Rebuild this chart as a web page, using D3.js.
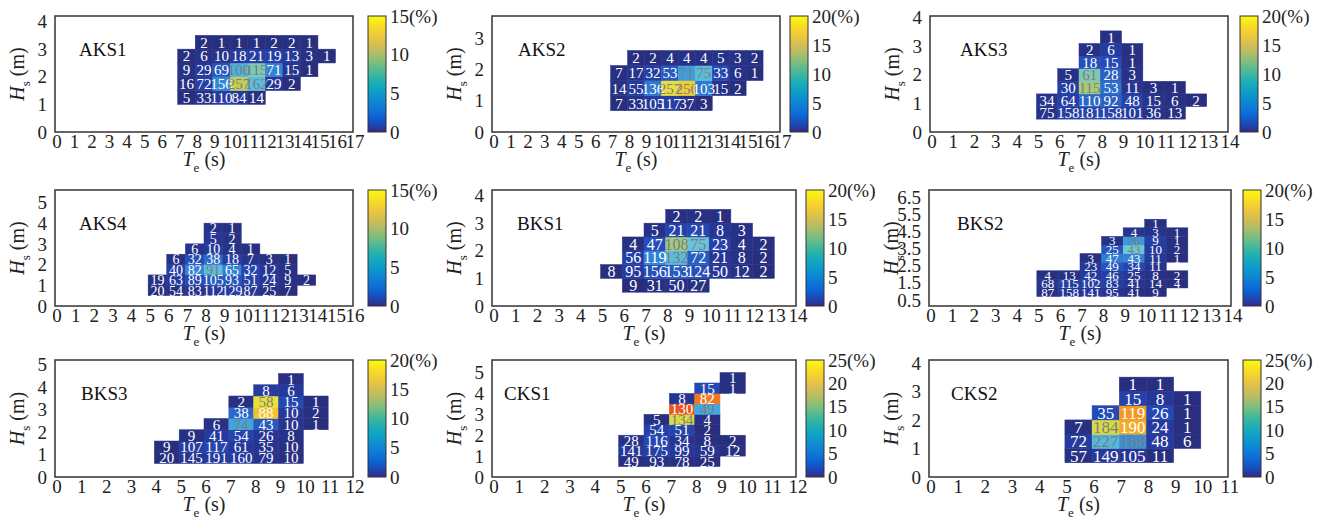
<!DOCTYPE html>
<html>
<head>
<meta charset="utf-8">
<script src="https://cdn.jsdelivr.net/npm/d3@7"></script>
<style>
  body { margin: 0; background: #fff; }
  svg text { font-family: "Liberation Serif", "Times New Roman", serif; }
</style>
</head>
<body>
<svg id="chart" width="1327" height="519"></svg>
<script>
// Data: occurrence counts per (Te, Hs) bin.
// Each row goes bottom-up: [first Te bin, counts along Te...]

const aks1 = [
    [7, 5, 33, 110, 84, 14],
    [7, 16, 72, 156, 257, 162, 29, 2],
    [7, 9, 29, 69, 100, 115, 71, 15, 1],
    [7, 2, 6, 10, 18, 21, 19, 13, 3, 1],
    [8, 2, 1, 1, 1, 2, 2, 1]
];
const aks2 = [
    [7, 7, 33, 105, 117, 37, 3],
    [7, 14, 55, 136, 257, 250, 103, 15, 2],
    [7, 7, 17, 32, 53, 71, 75, 33, 6, 1],
    [8, 2, 2, 4, 4, 4, 5, 3, 2]
];
const aks3 = [
    [5, 75, 158, 181, 158, 101, 36, 13],
    [5, 34, 64, 110, 92, 48, 15, 6, 2],
    [6, 30, 115, 53, 11, 3, 1],
    [6, 5, 61, 28, 3],
    [7, 18, 15, 1],
    [7, 2, 6, 1],
    [8, 1]
];
const aks4 = [
    [5, 20, 54, 83, 112, 129, 87, 25, 7],
    [5, 19, 63, 89, 105, 93, 51, 24, 9, 2],
    [6, 40, 82, 91, 65, 32, 12, 5],
    [6, 6, 32, 38, 18, 7, 3, 1],
    [7, 6, 10, 4, 1],
    [8, 5, 2],
    [8, 2, 1]
];
const bks1 = [
    [6, 9, 31, 50, 27],
    [5, 8, 95, 156, 153, 124, 50, 12, 2],
    [6, 56, 119, 132, 72, 21, 8, 2],
    [6, 4, 47, 108, 75, 23, 4, 2],
    [7, 5, 21, 21, 8, 3],
    [8, 2, 2, 1]
];
const bks2 = [
    [5, 87, 158, 141, 95, 41, 9],
    [5, 68, 115, 102, 83, 41, 14, 4],
    [5, 4, 13, 42, 46, 25, 8, 2],
    [7, 23, 49, 34, 11],
    [7, 3, 47, 43, 11, 1],
    [8, 25, 43, 10, 2],
    [8, 3, 26, 9, 1],
    [9, 4, 3, 1],
    [10, 1]
];
const bks3 = [
    [4, 20, 145, 191, 160, 79, 10],
    [4, 9, 107, 117, 61, 35, 10],
    [5, 9, 41, 54, 26, 8],
    [6, 6, 74, 43, 10, 1],
    [7, 38, 88, 10, 2],
    [7, 2, 58, 15, 1],
    [8, 8, 6],
    [9, 1]
];
const cks1 = [
    [5, 49, 93, 78, 25],
    [5, 141, 175, 99, 59, 12],
    [5, 28, 116, 34, 8, 2],
    [6, 54, 51, 2],
    [6, 5, 134, 4],
    [7, 130, 49],
    [7, 8, 82],
    [8, 15, 1],
    [9, 1]
];
const cks2 = [
    [5, 57, 149, 105, 11],
    [5, 72, 227, 168, 48, 6],
    [5, 7, 184, 190, 24, 1],
    [6, 35, 119, 26, 1],
    [7, 15, 8, 1],
    [7, 1, 1]
];

const siteNames = ["AKS1", "AKS2", "AKS3", "AKS4", "BKS1", "BKS2", "BKS3", "CKS1", "CKS2"];
const siteCells = [aks1, aks2, aks3, aks4, bks1, bks2, bks3, cks1, cks2];
const hsStart = [1.0, 0.68, 0.45, 0.5, 0.5, 0.7, 0.6, 0.5, 0.5];
const hsStep = [0.5, 0.48, 0.44, 0.5, 0.5, 0.5, 0.5, 0.5, 0.5];
const teMax = [17, 17, 14, 16, 14, 14, 12, 12, 11];
const hsMin = [0, 0, 0, 0, 0, 0.15, 0, 0, 0];
const hsMax = [4.2, 3.7, 4.05, 5.6, 4.2, 6.9, 5.2, 5.6, 4.1];
const hsTicks = [
    [0, 1, 2, 3, 4], [0, 1, 2, 3], [0, 1, 2, 3, 4],
    [0, 1, 2, 3, 4, 5], [0, 1, 2, 3, 4], [0.5, 1.5, 2.5, 3.5, 4.5, 5.5, 6.5],
    [0, 1, 2, 3, 4, 5], [0, 1, 2, 3, 4, 5], [0, 1, 2, 3, 4]
];
const cbarMax = [15, 20, 20, 15, 20, 20, 20, 25, 25];
const energyMax = 25;   // cell colour: share of wave energy (%)

// Layout

const rowsY = [[16, 132], [190, 306], [360, 477]];
const frames = [
    { x0: 55, x1: 353, cb: 368, fs: 15, lx: 24 },
    { x0: 492, x1: 780, cb: 790, fs: 15, lx: 26 },
    { x0: 930, x1: 1228, cb: 1240, fs: 15, lx: 30 },
    { x0: 55, x1: 353, cb: 368, fs: 14, lx: 24 },
    { x0: 492, x1: 796, cb: 806, fs: 16, lx: 25 },
    { x0: 929, x1: 1231, cb: 1243, fs: 13, lx: 28 },
    { x0: 55, x1: 353, cb: 368, fs: 15, lx: 26 },
    { x0: 492, x1: 796, cb: 806, fs: 15, lx: 12 },
    { x0: 929, x1: 1228, cb: 1243, fs: 17, lx: 22 }
];

const parula = d3.interpolateRgbBasis(["#352a87", "#0363e1", "#1485d4", "#06a7c6",
    "#38b99e", "#92bf73", "#d9ba56", "#fcce2e", "#f9fb0e"]);

const cellColor = d3.scaleLinear()
    .domain([0, 0.1, 0.2, 0.3, 0.36, 0.42, 0.5, 0.57, 0.63, 0.7, 0.75, 0.8, 0.85, 1])
    .range(["#282e7c", "#26399c", "#244cb8", "#2f78d0", "#45aee0", "#6cc8d8", "#88c8a0",
        "#bccc5a", "#e8e03c", "#f2be2c", "#f29a22", "#ee6c20", "#e8441c", "#c82018"])
    .clamp(true);

const svg = d3.select("#chart");
const defs = svg.append("defs");

const grad = defs.append("linearGradient")
    .attr("id", "parula")
    .attr("x1", 0).attr("y1", 1).attr("x2", 0).attr("y2", 0);
d3.range(0, 1.0001, 0.05).forEach(t => {
    grad.append("stop").attr("offset", t).attr("stop-color", parula(t));
});

siteNames.forEach((name, i) => drawPanel(name, i));

function drawPanel(name, i) {

    const f = frames[i];
    const [y0, y1] = rowsY[Math.floor(i / 3)];
    const step = hsStep[i];
    const g = svg.append("g");

    const x = d3.scaleLinear().domain([0, teMax[i]]).range([f.x0, f.x1]);
    const y = d3.scaleLinear().domain([hsMin[i], hsMax[i]]).range([y1, y0]);

    // flatten cells, colour by share of wave energy (n * Hs^2 * Te)
    const cells = [];
    siteCells[i].forEach((row, r) => {
        const t0 = row[0];
        row.slice(1).forEach((n, k) => {
            const te = t0 + k;
            const hs = hsStart[i] + r * step;
            cells.push({ te, hs, n, e: n * Math.pow(hs + step / 2, 2) * (te + 0.5) });
        });
    });
    const total = d3.sum(cells, d => d.e);
    cells.forEach(d => { d.p = d.e / total * 100 / energyMax; });

    g.selectAll("rect.cell")
        .data(cells)
        .enter().append("rect")
        .attr("class", "cell")
        .attr("x", d => x(d.te))
        .attr("y", d => y(d.hs + step))
        .attr("width", d => x(d.te + 1) - x(d.te))
        .attr("height", d => y(d.hs) - y(d.hs + step))
        .attr("fill", d => cellColor(d.p))
        .attr("stroke", d => cellColor(d.p))
        .attr("stroke-width", 0.5);

    g.selectAll("text.val")
        .data(cells)
        .enter().append("text")
        .attr("class", "val")
        .attr("x", d => x(d.te + 0.5))
        .attr("y", d => y(d.hs + step / 2))
        .attr("dy", "0.36em")
        .attr("text-anchor", "middle")
        .attr("font-size", f.fs)
        .attr("fill", d => (d.p > 0.32 && d.p < 0.68) ? "#7d7d7d" : "#fff")
        .text(d => d.n);

    // frame
    g.append("rect")
        .attr("x", f.x0).attr("y", y0)
        .attr("width", f.x1 - f.x0).attr("height", y1 - y0)
        .attr("fill", "none")
        .attr("stroke", "#333")
        .attr("stroke-width", 1.5);

    // tick labels
    g.selectAll("text.xt")
        .data(d3.range(0, teMax[i] + 1))
        .enter().append("text")
        .attr("x", d => x(d) + 2)
        .attr("y", y1 + 16)
        .attr("text-anchor", "middle")
        .attr("font-size", 19)
        .attr("fill", "#222")
        .text(d => d);

    g.selectAll("text.yt")
        .data(hsTicks[i])
        .enter().append("text")
        .attr("x", f.x0 - 8)
        .attr("y", d => y(d))
        .attr("dy", "0.35em")
        .attr("text-anchor", "end")
        .attr("font-size", 19)
        .attr("fill", "#222")
        .text(d => d);

    // axis titles
    const xt = g.append("text")
        .attr("x", (f.x0 + f.x1) / 2)
        .attr("y", y1 + 34)
        .attr("text-anchor", "middle")
        .attr("font-size", 20)
        .attr("fill", "#222");
    xt.append("tspan").attr("font-style", "italic").text("T");
    xt.append("tspan").attr("font-size", 13).attr("dy", 6).text("e");
    xt.append("tspan").attr("dy", -6).text(" (s)");

    const ty = g.append("text")
        .attr("transform", `translate(${f.x0 - 31},${(y0 + y1) / 2}) rotate(-90)`)
        .attr("text-anchor", "middle")
        .attr("font-size", 20)
        .attr("fill", "#222");
    ty.append("tspan").attr("font-style", "italic").text("H");
    ty.append("tspan").attr("font-size", 13).attr("dy", 6).text("s");
    ty.append("tspan").attr("dy", -6).text(" (m)");

    // site label
    g.append("text")
        .attr("x", f.x0 + f.lx)
        .attr("y", y0 + 40)
        .attr("font-size", 19)
        .attr("fill", "#111")
        .text(name);

    // colorbar
    const cbW = 18;
    const c = d3.scaleLinear().domain([0, cbarMax[i]]).range([y1, y0]);
    g.append("rect")
        .attr("x", f.cb).attr("y", y0)
        .attr("width", cbW).attr("height", y1 - y0)
        .attr("fill", "url(#parula)")
        .attr("stroke", "#333")
        .attr("stroke-width", 1);

    const cTicks = d3.range(0, cbarMax[i] + 1, 5);
    g.selectAll("text.ct")
        .data(cTicks)
        .enter().append("text")
        .attr("x", f.cb + cbW + 4)
        .attr("y", d => c(d))
        .attr("dy", "0.35em")
        .attr("font-size", 19)
        .attr("fill", "#222")
        .text(d => d === cbarMax[i] ? d + "(%)" : d);
}
</script>
</body>
</html>
